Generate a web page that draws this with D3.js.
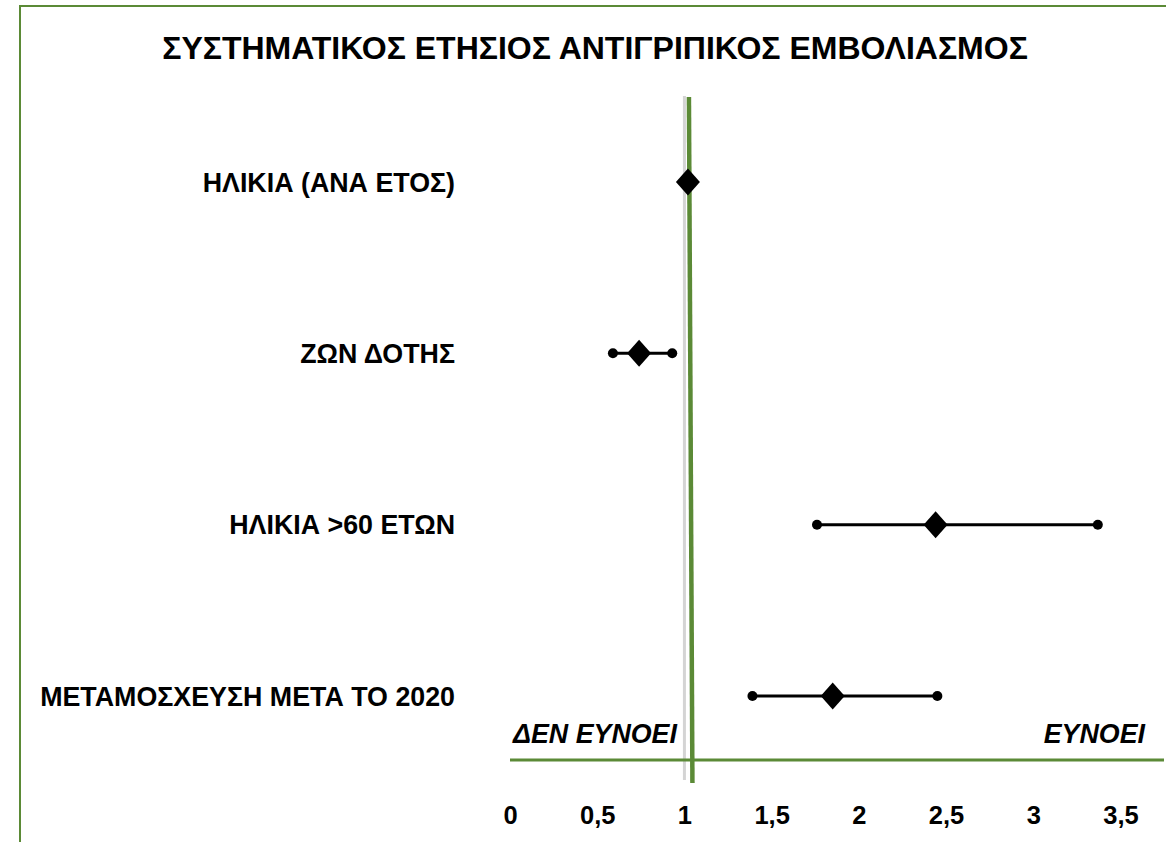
<!DOCTYPE html>
<html>
<head>
<meta charset="utf-8">
<script src="https://cdn.jsdelivr.net/npm/d3@7"></script>
<style>
	html, body { margin: 0; padding: 0; background: #fff; }
	svg text { font-family: "Liberation Sans", Arial, sans-serif; font-weight: bold; fill: #000; }
</style>
</head>
<body>
<div id="chart"></div>
<script>
// forest plot data (odds ratio, 95% CI)
var categories = ['ΗΛΙΚΙΑ (ΑΝΑ ΕΤΟΣ)', 'ΖΩΝ ΔΟΤΗΣ', 'ΗΛΙΚΙΑ >60 ΕΤΩΝ', 'ΜΕΤΑΜΟΣΧΕΥΣΗ ΜΕΤΑ ΤΟ 2020'];
var estimates = [1.02, 0.74, 2.44, 1.85];
var lower = [1.01, 0.59, 1.76, 1.39];
var upper = [1.03, 0.93, 3.37, 2.45];
var tickValues = [0, 0.5, 1, 1.5, 2, 2.5, 3, 3.5];
var title = 'ΣΥΣΤΗΜΑΤΙΚΟΣ ΕΤΗΣΙΟΣ ΑΝΤΙΓΡΙΠΙΚΟΣ ΕΜΒΟΛΙΑΣΜΟΣ';
var sideLabels = ['ΔΕΝ ΕΥΝΟΕΙ', 'ΕΥΝΟΕΙ'];

var width = 1166, height = 842;
var green = '#5b8a36';

var svg = d3.select('#chart')
	.append('svg')
	.attr('width', width)
	.attr('height', height);

var x = d3.scaleLinear().domain([0, 3.5]).range([510, 1120.5]);
var y = d3.scalePoint().domain(categories).range([182, 696]);

// outer frame
svg.append('rect')
	.attr('x', 20).attr('y', 6)
	.attr('width', 1200).attr('height', 900)
	.style('fill', 'none')
	.style('stroke', green)
	.style('stroke-width', 2);

svg.append('text')
	.attr('x', 595).attr('y', 59)
	.attr('text-anchor', 'middle')
	.style('font-size', '32px')
	.text(title);

// reference line at 1
svg.append('line')
	.attr('x1', x(1)).attr('x2', x(1))
	.attr('y1', 96).attr('y2', 780)
	.style('stroke', '#d4d4d4')
	.style('stroke-width', 3);

svg.append('line')
	.attr('x1', x(1) + 4.5).attr('x2', x(1) + 8)
	.attr('y1', 97).attr('y2', 783)
	.style('stroke', green)
	.style('stroke-width', 4.5);

svg.append('line')
	.attr('x1', x(0)).attr('x2', 1164)
	.attr('y1', 760).attr('y2', 760)
	.style('stroke', green)
	.style('stroke-width', 3);

// row labels
svg.append('g').selectAll('text')
	.data(categories)
	.join('text')
	.attr('x', 455)
	.attr('y', function(d) { return y(d) + 9.5; })
	.attr('text-anchor', 'end')
	.style('font-size', '26.8px')
	.text(function(d) { return d; });

var rows = svg.append('g').selectAll('g')
	.data(categories)
	.join('g')
	.attr('transform', function(d) { return 'translate(0,' + y(d) + ')'; });

rows.append('line')
	.attr('x1', function(d, i) { return x(lower[i]); })
	.attr('x2', function(d, i) { return x(upper[i]); })
	.style('stroke', '#000')
	.style('stroke-width', 3);

rows.selectAll('circle')
	.data(function(d, i) { return [lower[i], upper[i]]; })
	.join('circle')
	.attr('cx', function(v) { return x(v); })
	.attr('r', 5)
	.style('fill', '#000');

rows.append('path')
	.attr('d', 'M0,-13.5L12,0L0,13.5L-12,0Z')
	.attr('transform', function(d, i) { return 'translate(' + x(estimates[i]) + ',0)'; })
	.style('fill', '#000');

// axis
var axis = svg.append('g')
	.attr('transform', 'translate(0,815)')
	.call(d3.axisBottom(x)
		.tickValues(tickValues)
		.tickSize(0)
		.tickPadding(0)
		.tickFormat(function(d) { return String(d).replace('.', ','); }));
axis.select('.domain').remove();
axis.selectAll('text')
	.attr('dy', '0.35em')
	.style('font-size', '25.5px')
	.style('font-family', null);

svg.append('text')
	.attr('x', 513).attr('y', 743)
	.style('font-size', '26.8px')
	.style('font-style', 'italic')
	.text(sideLabels[0]);

svg.append('text')
	.attr('x', 1145).attr('y', 743)
	.attr('text-anchor', 'end')
	.style('font-size', '26.8px')
	.style('font-style', 'italic')
	.text(sideLabels[1]);
</script>
</body>
</html>
